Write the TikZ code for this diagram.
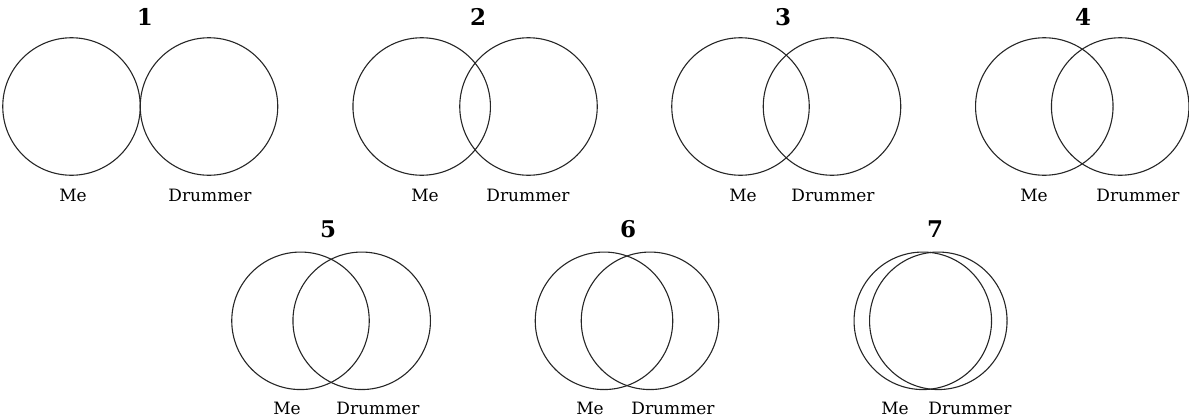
\documentclass[tikz,border=0pt]{standalone}
\usepackage{fontspec}
\setmainfont{DejaVu Serif}
\begin{document}
\begin{tikzpicture}[x=1pt,y=-1pt,
  venn/.style={draw=black!85,line width=1.1pt,circle,inner sep=0pt,minimum size=137.5pt},
  num/.style={font=\fontsize{23}{23}\selectfont\bfseries,inner sep=0pt},
  lab/.style={font=\fontsize{17}{17}\selectfont,inner sep=0pt}]
\useasboundingbox (0,0) rectangle (1189,418);
% panel 1
\node[num] (n1) at (145,16.7) {1};
\node[venn] (a1) at (71.5,106.5) {};
\node[venn] (b1) at (209,106.5) {};
\node[lab] (m1) at (73,195) {Me};
\node[lab] (d1) at (210,195) {Drummer};
% panel 2
\node[num] (n2) at (478,16.7) {2};
\node[venn] (a2) at (421.7,106.5) {};
\node[venn] (b2) at (528.5,106.5) {};
\node[lab] (m2) at (425,195) {Me};
\node[lab] (d2) at (528,195) {Drummer};
% panel 3
\node[num] (n3) at (783,16.7) {3};
\node[venn] (a3) at (740.5,106.5) {};
\node[venn] (b3) at (832,106.5) {};
\node[lab] (m3) at (743,195) {Me};
\node[lab] (d3) at (833,195) {Drummer};
% panel 4
\node[num] (n4) at (1083,16.7) {4};
\node[venn] (a4) at (1044.3,106.5) {};
\node[venn] (b4) at (1120.2,106.5) {};
\node[lab] (m4) at (1034,195) {Me};
\node[lab] (d4) at (1138,195) {Drummer};
% panel 5
\node[num] (n5) at (328,229) {5};
\node[venn] (a5) at (300.5,320.8) {};
\node[venn] (b5) at (361.7,320.8) {};
\node[lab] (m5) at (287,408) {Me};
\node[lab] (d5) at (378,408) {Drummer};
% panel 6
\node[num] (n6) at (628,229) {6};
\node[venn] (a6) at (604,320.8) {};
\node[venn] (b6) at (650,320.8) {};
\node[lab] (m6) at (590,408) {Me};
\node[lab] (d6) at (673,408) {Drummer};
% panel 7
\node[num] (n7) at (935,229) {7};
\node[venn] (a7) at (922.8,320.8) {};
\node[venn] (b7) at (938.3,320.8) {};
\node[lab] (m7) at (895,408) {Me};
\node[lab] (d7) at (970,408) {Drummer};
\end{tikzpicture}
\end{document}
